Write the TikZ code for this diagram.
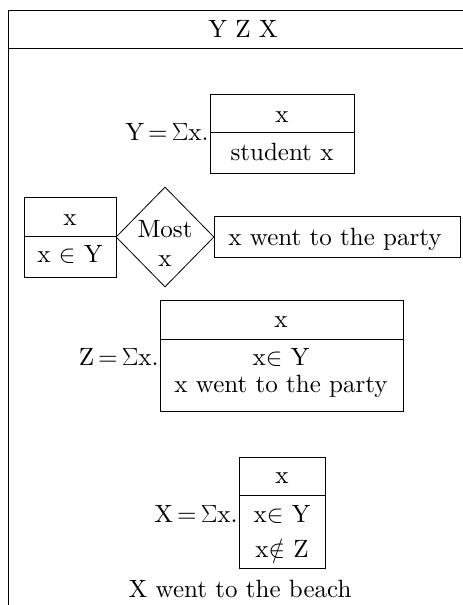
\documentclass[tikz,border=0pt]{standalone}
\usepackage{fontspec}
\setmainfont{lmroman10-regular}[Extension=.otf]
\usetikzlibrary{shapes.geometric}
\begin{document}
\begin{tikzpicture}[x=1pt,y=-1pt,line width=0.8pt,
  txt/.style={font=\fontsize{25}{29}\selectfont, inner sep=0pt, anchor=base},
  eqtxt/.style={txt, anchor=base east},
  cell/.style={draw, inner sep=0pt, anchor=north west}]
\useasboundingbox (0,0) rectangle (463,605);
% frame
\coordinate (fbl) at (8,605);
\coordinate (ftl) at (8,10);
\coordinate (ftr) at (463,10);
\coordinate (fhl) at (8,48);
\coordinate (fhr) at (463,48);
\draw (fbl) -- (ftl) -- (ftr);
\draw (fhl) -- (fhr);
\node[txt] (title) at (243,37) {Y Z X};
% box 1
\node[cell, minimum width=144pt, minimum height=38pt] (b1t) at (210,94) {};
\node[cell, minimum width=144pt, minimum height=41pt] (b1b) at (210,132) {};
\node[txt] (b1x) at (282,122) {x};
\node[txt] (b1s) at (282,160) {student x};
\node[eqtxt] (yeq) at (209,140) {Y\,=\,$\Sigma$x.};
% box 2
\node[cell, minimum width=92pt, minimum height=39pt] (b2t) at (24,197) {};
\node[cell, minimum width=92pt, minimum height=41pt] (b2b) at (24,236) {};
\node[txt] (b2x) at (70,225) {x};
\node[txt] (b2y) at (70,262) {x $\in$ Y};
% diamond
\node[draw, diamond, minimum width=98pt, minimum height=100pt, inner sep=0pt] (most) at (165,237) {};
\node[txt] (mostt) at (165,237) {Most};
\node[txt] (mostx) at (165,266) {x};
% box 3
\node[cell, minimum width=246pt, minimum height=41pt] (b3) at (214,216) {};
\node[txt] (b3t) at (335,245) {x went to the party};
% box 4
\node[cell, minimum width=243pt, minimum height=39pt] (b4t) at (160,300) {};
\node[cell, minimum width=243pt, minimum height=72pt] (b4b) at (160,339) {};
\node[txt] (b4x) at (281,327) {x};
\node[txt] (b4y) at (281,365) {x$\in$ Y};
\node[txt] (b4p) at (281,392) {x went to the party};
\node[eqtxt] (zeq) at (159,365) {Z\,=\,$\Sigma$x.};
% box 5
\node[cell, minimum width=86pt, minimum height=38pt] (b5t) at (239,457) {};
\node[cell, minimum width=86pt, minimum height=73pt] (b5b) at (239,495) {};
\node[txt] (b5x) at (282,483) {x};
\node[txt] (b5y) at (282,522) {x$\in$ Y};
\node[txt] (b5z) at (282,557) {x$\notin$ Z};
\node[eqtxt] (xeq) at (238,522) {X\,=\,$\Sigma$x.};
\node[txt] (beach) at (240,597) {X went to the beach};
\end{tikzpicture}
\end{document}
